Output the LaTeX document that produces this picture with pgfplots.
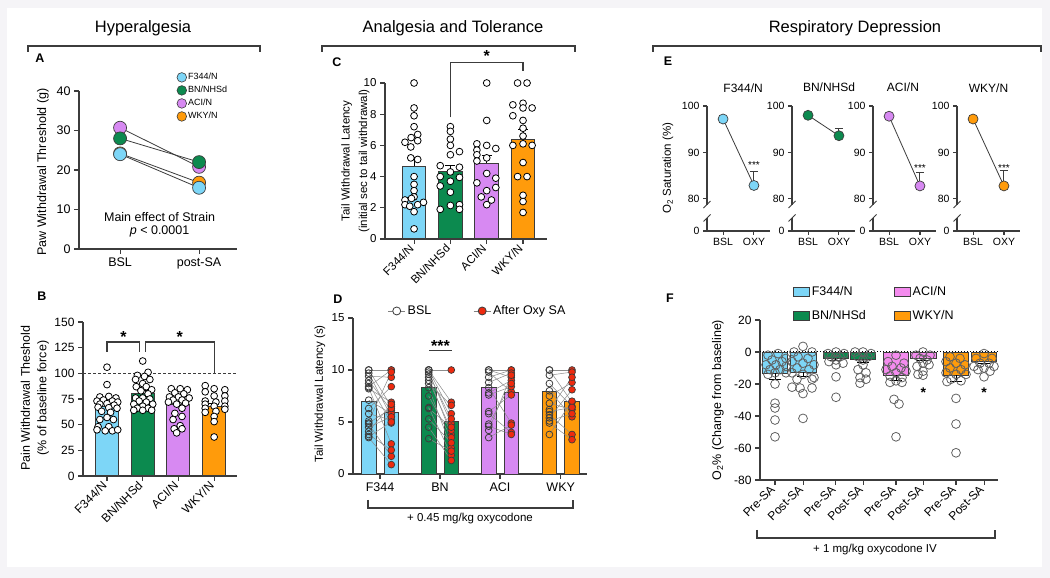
\documentclass[border=0pt]{standalone}
\usepackage{fontspec}
\setmainfont{Liberation Sans}
\usepackage{pgfplots}
\usepackage{pgfplotstable}
\pgfplotsset{compat=1.18}
\definecolor{cF}{HTML}{7DD6F7}
\definecolor{cB}{HTML}{0C8A4F}
\definecolor{cA}{HTML}{D789F2}
\definecolor{cAp}{HTML}{F48BEE}
\definecolor{cW}{HTML}{FF9B0B}
\definecolor{axc}{HTML}{3C3C3C}
\definecolor{cR}{HTML}{EE2A0E}
\definecolor{bgc}{HTML}{F5F4F7}
\pgfplotsset{
  gp/.style={scale only axis, anchor=south west, axis lines=left,
    axis line style={-, line width=1.1pt, draw=axc},
    tick style={line width=1.1pt, draw=axc},
    major tick length=5pt, tick align=outside, clip=false,
    ticklabel style={font=\fontsize{11.5}{13}\selectfont, text=black},
    /pgf/number format/assume math mode=true, enlargelimits=false},
  ebar/.style={error bars/.cd, y dir=plus, y explicit,
    error bar style={draw=black, line width=1pt},
    error mark options={rotate=90, draw=black, mark size=5pt, line width=1pt}},
  pts/.style={only marks, mark=*, mark size=3.4pt, mark options={fill=white, draw=black, line width=0.8pt}},
}
\pgfplotstableread{
b p
10 6.5
10 10
9.7 5.5
9.4 9.3
9.0 6.1
8.7 4.9
8.4 10
8.3 2.9
8.2 6.9
7.1 5.8
6.3 8.4
5.8 5.2
5.1 9.8
4.9 6.3
4.8 1.7
4.5 5.5
4.1 6.7
3.8 2.3
3.6 5.0
3.5 0.9
}\dDF
\pgfplotstableread{
b p
10 10
10 6.9
10 5.8
9.8 4.8
9.6 5.3
9.3 3.8
9.0 4.2
8.7 6.6
8.3 2.5
7.5 3.5
6.4 1.8
6.3 4.5
5.3 3.0
4.5 1.3
3.4 2.2
}\dDB
\pgfplotstableread{
b p
10 10
10 9.3
9.8 7.9
9.3 10
8.8 9.7
8.3 4.9
7.8 9.0
7.6 8.4
6.0 7.6
5.8 4.0
4.8 8.7
4.6 3.8
4.2 9.5
3.5 4.7
}\dDA
\pgfplotstableread{
b p
10 10
10 6.9
9.5 9.8
8.7 6.5
8.0 5.5
7.5 8.8
6.8 6.2
6.2 9.3
5.7 3.8
5.4 8.1
5.1 5.8
4.9 3.3
3.8 7.0
6.0 6.4
}\dDW
\begin{document}
\begin{tikzpicture}[x=1pt,y=1pt]
\path[use as bounding box] (0,0) rectangle (1050,578);
\fill[bgc] (0,0) rectangle (1050,578);
\fill[white] (7,11) rectangle (1042,570);
% section titles and brackets
\node[font=\fontsize{16.5}{18}\selectfont] at (143,550) {Hyperalgesia};
\node[font=\fontsize{16.5}{18}\selectfont] at (453,550) {Analgesia and Tolerance};
\node[font=\fontsize{16.5}{18}\selectfont] at (855,550) {Respiratory Depression};
\draw[axc, line width=1.1pt] (28,526) -- (28,532) -- (260,532) -- (260,526);
\draw[axc, line width=1.1pt] (322,526) -- (322,532) -- (575,532) -- (575,526);
\draw[axc, line width=1.1pt] (653,526) -- (653,532) -- (1041,532) -- (1041,526);
% panel letters
\foreach \l/\px/\py in {A/40/520, B/42/282, C/337/516, D/338/279, E/668/517, F/670/280}
  \node[font=\bfseries\fontsize{12.5}{14}\selectfont] at (\px,\py) {\l};
% y labels
\node[rotate=90, font=\fontsize{12.5}{15}\selectfont] at (43,406) {Paw Withdrawal Threshold (g)};
\node[rotate=90, align=center, font=\fontsize{12.5}{16.5}\selectfont] at (35,180) {Pain Withdrawal Theshold\\(\% of baseline force)};
\node[rotate=90, align=center, font=\fontsize{11.5}{17.5}\selectfont] at (355.5,417) {Tail Withdrawal Latency\\(initial sec to tail withdrawal)};
\node[rotate=90, font=\fontsize{11.5}{14}\selectfont] at (320,184) {Tail Withdrawal Latency (s)};
\node[rotate=90, font=\fontsize{11.5}{14}\selectfont] at (668,410) {O\textsubscript{2} Saturation (\%)};
\node[rotate=90, font=\fontsize{12.5}{15}\selectfont] at (718,178) {O\textsubscript{2}\% (Change from baseline)};
% bottom brackets
\draw[axc, line width=1.1pt] (368,78) -- (368,70) -- (573,70) -- (573,78);
\node[font=\fontsize{11.5}{14}\selectfont] at (470,59) {+ 0.45 mg/kg oxycodone};
\draw[axc, line width=1.1pt] (757,48) -- (757,40) -- (995,40) -- (995,48);
\node[font=\fontsize{11.5}{14}\selectfont] at (875,28) {+ 1 mg/kg oxycodone IV};

% ---------------- Panel A
\begin{axis}[gp, at={(79pt,329pt)}, width=158pt, height=158pt,
  xmin=-0.52, xmax=1.48, ymin=0, ymax=40,
  xtick={0,1}, xticklabels={BSL,post-SA}, ytick={0,10,20,30,40},
  ticklabel style={font=\fontsize{12.5}{15}\selectfont},
  legend style={at={(axis description cs:0.6,1.135)}, anchor=north west, draw=none, fill=none,
    font=\fontsize{9}{10}\selectfont, row sep=2pt, nodes={inner sep=1.5pt}},
  legend cell align=left]
\addlegendimage{only marks, mark=*, mark size=4.8pt, mark options={fill=cF, draw=axc, line width=0.6pt}}
\addlegendentry{F344/N}
\addlegendimage{only marks, mark=*, mark size=4.8pt, mark options={fill=cB, draw=axc, line width=0.6pt}}
\addlegendentry{BN/NHSd}
\addlegendimage{only marks, mark=*, mark size=4.8pt, mark options={fill=cA, draw=axc, line width=0.6pt}}
\addlegendentry{ACI/N}
\addlegendimage{only marks, mark=*, mark size=4.8pt, mark options={fill=cW, draw=axc, line width=0.6pt}}
\addlegendentry{WKY/N}
\addplot[forget plot, color=axc, line width=0.8pt, mark=*, mark size=6.5pt, mark options={fill=cW, draw=axc, line width=0.7pt}] coordinates {(0,24.2) (1,16.8)};
\addplot[forget plot, color=axc, line width=0.8pt, mark=*, mark size=6.5pt, mark options={fill=cA, draw=axc, line width=0.7pt}] coordinates {(0,30.7) (1,20.8)};
\addplot[forget plot, color=axc, line width=0.8pt, mark=*, mark size=6.5pt, mark options={fill=cB, draw=axc, line width=0.7pt}] coordinates {(0,28) (1,22)};
\addplot[forget plot, color=axc, line width=0.8pt, mark=*, mark size=6.5pt, mark options={fill=cF, draw=axc, line width=0.7pt}] coordinates {(0,24) (1,15.5)};
\node[font=\fontsize{12.5}{15}\selectfont] at (axis cs:0.5,8) {Main effect of Strain};
\node[font=\fontsize{12.5}{15}\selectfont] at (axis cs:0.5,4.4) {\textit{p} < 0.0001};
\end{axis}

% ---------------- Panel B
\begin{axis}[gp, at={(83pt,102pt)}, width=154pt, height=154pt,
  xmin=-0.672, xmax=3.64, ymin=0, ymax=150, ytick={0,25,50,75,100,125,150},
  ticklabel style={font=\fontsize{12}{14}\selectfont},
  xtick={0,1,2,3}, xticklabels={F344/N,BN/NHSd,ACI/N,WKY/N},
  xticklabel style={rotate=45, anchor=east, font=\fontsize{12}{14}\selectfont}]
\addplot[ybar, bar width=23pt, bar shift=0pt, fill=cF, draw=axc, line width=1pt, ebar] coordinates {(0,67.3) +- (0,3.3)};
\addplot[ybar, bar width=23pt, bar shift=0pt, fill=cB, draw=axc, line width=1pt, ebar] coordinates {(1,80.5) +- (0,2.7)};
\addplot[ybar, bar width=23pt, bar shift=0pt, fill=cA, draw=axc, line width=1pt, ebar] coordinates {(2,69.3) +- (0,2.8)};
\addplot[ybar, bar width=23pt, bar shift=0pt, fill=cW, draw=axc, line width=1pt, ebar] coordinates {(3,67.8) +- (0,3.2)};
\addplot[dashed, dash pattern=on 3pt off 2pt, draw=axc, line width=1pt] coordinates {(-0.672,100) (3.64,100)};
\addplot[pts] coordinates {(0,106) (0,89) (-0.2,77) (0.05,77.5) (0.25,76) (-0.28,73) (-0.1,74) (0.15,73) (0.3,72) (-0.2,70) (0,70.5) (0.2,69) (-0.25,67) (0.05,66.5) (0.28,66) (-0.15,63) (0.1,62) (0,57) (-0.2,55) (0.18,55) (-0.25,48) (0.05,48) (-0.28,45) (-0.05,44) (0.15,44) (0.3,45)};
\addplot[pts] coordinates {(1,112) (1.15,101) (0.85,98) (1.05,97) (0.8,94) (1.2,94) (1,90) (0.82,87) (1.1,87) (1.25,84) (0.95,83) (1.15,80) (0.8,76) (1,76) (1.2,75) (0.9,73) (1.1,72) (0.75,70) (1.28,70) (1,68) (0.85,66) (1.15,66) (0.75,64) (1,64) (1.25,64)};
\addplot[pts] coordinates {(1.8,85) (2.05,85) (2.25,84) (1.9,81) (2.15,80) (1.75,77) (2,77) (2.3,76) (1.85,74) (2.1,74) (1.72,72) (2.2,71) (1.95,70) (2.1,66) (1.9,61) (2.1,58) (1.85,55) (2.05,49) (1.88,46) (2.1,46) (1.95,42)};
\addplot[pts] coordinates {(2.75,88) (2.75,82) (3,85) (3.3,84) (3.3,78) (3,78) (2.75,73) (3.3,73) (3.05,72) (2.75,70) (3.3,68) (3,68) (2.75,66) (3.3,65) (3.05,63) (2.75,62) (3,58) (3,53) (3,38)};
\draw[axc, line width=1.1pt] (axis cs:0,121) -- (axis cs:0,130.5) -- (axis cs:0.92,130.5) -- (axis cs:0.92,121);
\draw[axc, line width=1.1pt] (axis cs:1.08,121) -- (axis cs:1.08,130.5) -- (axis cs:3,130.5) -- (axis cs:3,100.5);
\node[anchor=base, yshift=-9pt, font=\bfseries\fontsize{16}{18}\selectfont] at (axis cs:0.46,139) {*};
\node[anchor=base, yshift=-9pt, font=\bfseries\fontsize{16}{18}\selectfont] at (axis cs:2.04,139) {*};
\end{axis}

% ---------------- Panel C
\begin{axis}[gp, at={(385pt,339pt)}, width=162pt, height=156pt,
  xmin=-0.8, xmax=3.66, ymin=0, ymax=10, ytick={0,2,4,6,8,10},
  ticklabel style={font=\fontsize{11.5}{13}\selectfont},
  xtick={0,1,2,3}, xticklabels={F344/N,BN/NHSd,ACI/N,WKY/N},
  xticklabel style={rotate=45, anchor=east, font=\fontsize{11.5}{13}\selectfont}]
\addplot[ybar, bar width=23.5pt, bar shift=0pt, fill=cF, draw=axc, line width=1pt, ebar] coordinates {(0,4.65) +- (0,0.55)};
\addplot[ybar, bar width=23.5pt, bar shift=0pt, fill=cB, draw=axc, line width=1pt, ebar] coordinates {(1,4.3) +- (0,0.4)};
\addplot[ybar, bar width=23.5pt, bar shift=0pt, fill=cA, draw=axc, line width=1pt, ebar] coordinates {(2,4.85) +- (0,0.5)};
\addplot[ybar, bar width=23.5pt, bar shift=0pt, fill=cW, draw=axc, line width=1pt, ebar] coordinates {(3,6.4) +- (0,0.6)};
\addplot[pts] coordinates {(0,10) (0,8.4) (0,7.9) (0,7.2) (0.1,6.7) (-0.08,6.5) (-0.25,6.2) (0.1,6.3) (-0.09,5.9) (-0.09,5.2) (0.1,5.1) (0,4.0) (0,3.5) (0,3.1) (0,2.7) (-0.25,2.5) (-0.07,2.6) (-0.25,2.2) (-0.12,2.1) (0.1,2.2) (0.26,2.35) (0,1.75) (0,0.65)};
\addplot[pts] coordinates {(1,7.2) (1,6.9) (1,6.4) (1,6.0) (1.25,5.6) (1,5.4) (0.72,4.7) (1.25,4.6) (1,4.3) (0.72,4.0) (1.25,3.95) (0.72,3.4) (1,3.7) (1,3.0) (1.25,2.2) (1,2.15) (0.72,1.9) (1.25,1.9)};
\addplot[pts] coordinates {(2,10) (2,7.6) (1.73,6.1) (2,6.0) (2.25,5.8) (1.73,5.7) (1.73,5.4) (2,5.2) (1.73,5.0) (1.73,3.6) (2,4.2) (2.25,3.9) (2.25,3.3) (2,3.1) (1.85,2.7) (2.13,2.5) (2,2.2)};
\addplot[pts] coordinates {(2.85,10) (3.11,10) (2.72,8.6) (3,8.7) (3.25,8.4) (3,8.4) (2.72,7.9) (3,7.6) (3,7.1) (3,6.6) (2.72,6.0) (3,6.1) (3.25,6.0) (3,4.9) (2.85,4.0) (3.11,4.0) (3,2.8) (3,2.4) (3,1.7)};
\draw[axc, line width=1.1pt] (axis cs:1,7.8) -- (axis cs:1,11.3) -- (axis cs:3,11.3) -- (axis cs:3,10.8);
\node[anchor=base, yshift=-9pt, font=\bfseries\fontsize{16}{18}\selectfont] at (axis cs:2,11.95) {*};
\end{axis}

% ---------------- Panel D
\begin{axis}[gp, at={(353pt,104pt)}, width=234pt, height=156pt,
  xmin=353, xmax=587, ymin=0, ymax=15, ytick={0,5,10,15},
  ticklabel style={font=\fontsize{11.5}{13}\selectfont},
  xtick={380,440,500,560.7}, xticklabels={F344,BN,ACI,WKY},
  xticklabel style={font=\fontsize{12.5}{15}\selectfont},
  legend style={at={(axis description cs:0.135,1.045)}, anchor=west, draw=none, fill=none,
    font=\fontsize{12.5}{14}\selectfont, legend columns=2,
    /tikz/every even column/.append style={column sep=40pt}},
  legend cell align=left]
\addlegendimage{color=gray, line width=0.8pt, mark=*, mark size=4pt, mark options={fill=white, draw=axc, line width=0.8pt}}
\addlegendentry{BSL}
\addlegendimage{color=gray, line width=0.8pt, mark=*, mark size=4pt, mark options={fill=cR, draw=axc, line width=0.8pt}}
\addlegendentry{After Oxy SA}
\addplot[forget plot, ybar, bar width=14.5pt, bar shift=0pt, fill=cF, draw=axc, line width=0.9pt] coordinates {(368.7,7.0)};
\addplot[forget plot, ybar, bar width=14.5pt, bar shift=0pt, fill=cF, draw=axc, line width=0.9pt] coordinates {(391.3,5.93)};
\addplot[forget plot, ybar, bar width=14.5pt, bar shift=0pt, fill=cB, draw=axc, line width=0.9pt] coordinates {(428.7,8.3)};
\addplot[forget plot, ybar, bar width=14.5pt, bar shift=0pt, fill=cB, draw=axc, line width=0.9pt] coordinates {(451.3,5.03)};
\addplot[forget plot, ybar, bar width=14.5pt, bar shift=0pt, fill=cA, draw=axc, line width=0.9pt] coordinates {(488.7,8.3)};
\addplot[forget plot, ybar, bar width=14.5pt, bar shift=0pt, fill=cA, draw=axc, line width=0.9pt] coordinates {(511.3,7.82)};
\addplot[forget plot, ybar, bar width=14.5pt, bar shift=0pt, fill=cW, draw=axc, line width=0.9pt] coordinates {(549.4,7.9)};
\addplot[forget plot, ybar, bar width=14.5pt, bar shift=0pt, fill=cW, draw=axc, line width=0.9pt] coordinates {(572,6.99)};
\addplot[forget plot, draw=black!45, line width=0.5pt, quiver={u=22.6, v=\thisrow{p}-\thisrow{b}}] table[x expr=368.7, y=b] {\dDF};
\addplot[forget plot, draw=black!45, line width=0.5pt, quiver={u=22.6, v=\thisrow{p}-\thisrow{b}}] table[x expr=428.7, y=b] {\dDB};
\addplot[forget plot, draw=black!45, line width=0.5pt, quiver={u=22.6, v=\thisrow{p}-\thisrow{b}}] table[x expr=488.7, y=b] {\dDA};
\addplot[forget plot, draw=black!45, line width=0.5pt, quiver={u=22.6, v=\thisrow{p}-\thisrow{b}}] table[x expr=549.4, y=b] {\dDW};
\addplot[forget plot, only marks, mark=o, mark size=3.4pt, mark options={draw=axc, line width=0.8pt}] table[x expr=368.7, y=b] {\dDF};
\addplot[forget plot, only marks, mark=o, mark size=3.4pt, mark options={draw=axc, line width=0.8pt}] table[x expr=428.7, y=b] {\dDB};
\addplot[forget plot, only marks, mark=o, mark size=3.4pt, mark options={draw=axc, line width=0.8pt}] table[x expr=488.7, y=b] {\dDA};
\addplot[forget plot, only marks, mark=o, mark size=3.4pt, mark options={draw=axc, line width=0.8pt}] table[x expr=549.4, y=b] {\dDW};
\addplot[forget plot, only marks, mark=*, mark size=3.4pt, mark options={fill=cR, draw=axc, line width=0.7pt}] table[x expr=391.3, y=p] {\dDF};
\addplot[forget plot, only marks, mark=*, mark size=3.4pt, mark options={fill=cR, draw=axc, line width=0.7pt}] table[x expr=451.3, y=p] {\dDB};
\addplot[forget plot, only marks, mark=*, mark size=3.4pt, mark options={fill=cR, draw=axc, line width=0.7pt}] table[x expr=511.3, y=p] {\dDA};
\addplot[forget plot, only marks, mark=*, mark size=3.4pt, mark options={fill=cR, draw=axc, line width=0.7pt}] table[x expr=572, y=p] {\dDW};
\draw[axc, line width=1.1pt] (axis cs:429,11.85) -- (axis cs:452,11.85);
\node[anchor=base, yshift=-9pt, font=\bfseries\fontsize{16}{18}\selectfont] at (axis cs:440.5,12.6) {***};
\end{axis}

% ---------------- Panel E (four small axes)
\pgfplotsset{eax/.style={gp, width=63pt, height=125pt, xmin=-0.52, xmax=1.52, ymin=73.1, ymax=100,
  ytick={73.1,80,90,100}, yticklabels={0,80,90,100}, xtick={0,1}, xticklabels={BSL,OXY},
  y axis line style={draw=none}, major tick length=4pt,
  ticklabel style={font=\fontsize{10.5}{12}\selectfont}}}
\newcommand{\ebreak}{%
  \draw[axc, line width=1.1pt] (axis cs:-0.52,100) -- (axis cs:-0.52,78.8);
  \draw[axc, line width=1.1pt] (axis cs:-0.52,75.9) -- (axis cs:-0.52,73.1);
  \draw[axc, line width=0.9pt] ([xshift=-3.5pt,yshift=-3.5pt]axis cs:-0.52,78.8) -- ([xshift=3.5pt,yshift=3.5pt]axis cs:-0.52,78.8);
  \draw[axc, line width=0.9pt] ([xshift=-3.5pt,yshift=-3.5pt]axis cs:-0.52,75.9) -- ([xshift=3.5pt,yshift=3.5pt]axis cs:-0.52,75.9);}
\begin{axis}[eax, at={(707pt,347pt)}]
\ebreak
\addplot[draw=none, mark=none, error bars/.cd, y dir=plus, y explicit, error bar style={draw=axc, line width=1pt}, error mark options={rotate=90, draw=axc, mark size=4pt, line width=1pt}] coordinates {(1,82.9) +- (0,3.0)};
\addplot[color=axc, line width=0.8pt, mark=*, mark size=5pt, mark options={fill=cF, draw=axc, line width=0.7pt}] coordinates {(0,97.2) (1,82.9)};
\node[anchor=base, yshift=-5.5pt, font=\fontsize{10}{12}\selectfont] at (axis cs:1,87.7) {***};
\node[font=\fontsize{12}{14}\selectfont] at (axis cs:0.65,103.8) {F344/N};
\end{axis}
\begin{axis}[eax, at={(792pt,347pt)}]
\ebreak
\addplot[draw=none, mark=none, error bars/.cd, y dir=plus, y explicit, error bar style={draw=axc, line width=1pt}, error mark options={rotate=90, draw=axc, mark size=4pt, line width=1pt}] coordinates {(1,93.6) +- (0,1.5)};
\addplot[color=axc, line width=0.8pt, mark=*, mark size=5pt, mark options={fill=cB, draw=axc, line width=0.7pt}] coordinates {(0,98.0) (1,93.6)};
\node[font=\fontsize{12}{14}\selectfont] at (axis cs:0.68,104.0) {BN/NHSd};
\end{axis}
\begin{axis}[eax, at={(873pt,347pt)}]
\ebreak
\addplot[draw=none, mark=none, error bars/.cd, y dir=plus, y explicit, error bar style={draw=axc, line width=1pt}, error mark options={rotate=90, draw=axc, mark size=4pt, line width=1pt}] coordinates {(1,82.8) +- (0,2.9)};
\addplot[color=axc, line width=0.8pt, mark=*, mark size=5pt, mark options={fill=cA, draw=axc, line width=0.7pt}] coordinates {(0,97.8) (1,82.8)};
\node[anchor=base, yshift=-5.5pt, font=\fontsize{10}{12}\selectfont] at (axis cs:1,87.0) {***};
\node[font=\fontsize{12}{14}\selectfont] at (axis cs:0.45,104.0) {ACI/N};
\end{axis}
\begin{axis}[eax, at={(957pt,347pt)}]
\ebreak
\addplot[draw=none, mark=none, error bars/.cd, y dir=plus, y explicit, error bar style={draw=axc, line width=1pt}, error mark options={rotate=90, draw=axc, mark size=4pt, line width=1pt}] coordinates {(1,82.8) +- (0,3.3)};
\addplot[color=axc, line width=0.8pt, mark=*, mark size=5pt, mark options={fill=cW, draw=axc, line width=0.7pt}] coordinates {(0,97.2) (1,82.8)};
\node[anchor=base, yshift=-5.5pt, font=\fontsize{10}{12}\selectfont] at (axis cs:1,87.1) {***};
\node[font=\fontsize{12}{14}\selectfont] at (axis cs:0.5,103.8) {WKY/N};
\end{axis}

% ---------------- Panel F
\begin{axis}[gp, at={(760pt,98pt)}, width=238pt, height=160pt,
  xmin=760, xmax=998, ymin=-80, ymax=20,
  ytick={-80,-60,-40,-20,0,20}, yticklabels={-80,-60,-40,-20,0,20},
  ticklabel style={font=\fontsize{12}{14}\selectfont},
  xtick={775,803.3,835.8,863.2,896,923.3,956,984.2},
  xticklabels={Pre-SA,Post-SA,Pre-SA,Post-SA,Pre-SA,Post-SA,Pre-SA,Post-SA},
  xticklabel style={rotate=45, anchor=east, font=\fontsize{12}{14}\selectfont},
  legend style={at={(axis description cs:0.125,1.235)}, anchor=north west, draw=none, fill=none,
    font=\fontsize{12.5}{14}\selectfont, legend columns=2, row sep=9pt,
    /tikz/every even column/.append style={column sep=26pt}},
  legend cell align=left,
  legend image code/.code={\draw[#1, draw=axc, line width=0.8pt] (0pt,-4.5pt) rectangle (16pt,4.5pt);}]
\addlegendimage{fill=cF}\addlegendentry{F344/N}
\addlegendimage{fill=cAp}\addlegendentry{ACI/N}
\addlegendimage{fill=cB}\addlegendentry{BN/NHSd}
\addlegendimage{fill=cW}\addlegendentry{WKY/N}
\pgfplotsset{febar/.style={error bars/.cd, y dir=minus, y explicit,
    error bar style={draw=black, line width=1pt},
    error mark options={rotate=90, draw=black, mark size=6pt, line width=1pt}}}
\addplot[forget plot, ybar, bar width=25.3pt, bar shift=0pt, fill=cF, draw=axc, line width=0.9pt, febar] coordinates {(775,-13.3) +- (0,3.7)};
\addplot[forget plot, ybar, bar width=25.3pt, bar shift=0pt, fill=cF, draw=axc, line width=0.9pt, febar] coordinates {(803.3,-12.7) +- (0,2.5)};
\addplot[forget plot, ybar, bar width=25.3pt, bar shift=0pt, fill=cB, draw=axc, line width=0.9pt, febar] coordinates {(835.8,-4.0) +- (0,1.6)};
\addplot[forget plot, ybar, bar width=25.3pt, bar shift=0pt, fill=cB, draw=axc, line width=0.9pt, febar] coordinates {(863.2,-4.8) +- (0,1.5)};
\addplot[forget plot, ybar, bar width=25.3pt, bar shift=0pt, fill=cAp, draw=axc, line width=0.9pt, febar] coordinates {(896,-14.4) +- (0,3.3)};
\addplot[forget plot, ybar, bar width=25.3pt, bar shift=0pt, fill=cAp, draw=axc, line width=0.9pt, febar] coordinates {(923.3,-4.1) +- (0,1.1)};
\addplot[forget plot, ybar, bar width=25.3pt, bar shift=0pt, fill=cW, draw=axc, line width=0.9pt, febar] coordinates {(956,-14.4) +- (0,3.9)};
\addplot[forget plot, ybar, bar width=25.3pt, bar shift=0pt, fill=cW, draw=axc, line width=0.9pt, febar] coordinates {(984.2,-6.0) +- (0,1.5)};
\addplot[forget plot, dotted, draw=black, line width=1pt] coordinates {(760,0) (998,0)};
\pgfplotsset{fpts/.style={forget plot, only marks, mark=o, mark size=4.4pt, mark options={draw=black!62, line width=0.8pt}}}
\addplot[fpts] coordinates {(768,-2) (778,-1) (786,-4) (772,-5) (782,-6) (766,-8) (776,-8) (786,-9) (770,-11) (780,-11) (775,-13) (786,-13) (768,-14) (775,-20) (775,-32) (775,-35) (775,-42.5) (775,-53)};
\addplot[fpts] coordinates {(803,3.5) (794,0) (812,0) (798,-3) (808,-4) (792,-6) (803,-7) (814,-8) (797,-10) (809,-11) (792,-13) (803,-14) (814,-16) (797,-17) (812,-17) (792,-22) (800,-22.5) (812,-22.5) (803,-26) (803,-41.5)};
\addplot[fpts] coordinates {(828,-1) (836,0) (844,-1) (831,-3) (840,-3) (836,-5) (829,-6) (843,-7) (836,-8) (836,-15.5) (836,-28.3)};
\addplot[fpts] coordinates {(855,0) (863,0) (871,-1) (858,-3) (868,-3) (863,-5) (863,-8) (858,-11) (866,-13) (860,-16) (866,-17) (860,-19.5)};
\addplot[fpts] coordinates {(896,-2) (888,-6) (904,-7) (892,-9) (901,-10) (886,-11) (906,-12) (896,-13) (890,-15) (902,-16) (896,-18) (890,-19) (902,-19) (894,-29.6) (899,-32.5) (896,-53)};
\addplot[fpts] coordinates {(923,0) (916,-2) (930,-2) (920,-4) (927,-5) (923,-7) (917,-9) (929,-8) (923,-12) (918,-14) (923,-14.5)};
\addplot[fpts] coordinates {(950,-3) (960,-4) (946,-6) (956,-7) (965,-8) (950,-10) (961,-11) (946,-13) (956,-14) (966,-14) (951,-17) (961,-18) (947,-18.5) (956,-29) (956,-45) (956,-63)};
\addplot[fpts] coordinates {(984,-1) (976,-4) (992,-4) (980,-7) (989,-7) (974,-9) (984,-10) (994,-9) (978,-11) (990,-12) (984,-15.5)};
\node[anchor=base, yshift=-8pt, font=\bfseries\fontsize{14}{16}\selectfont] at (axis cs:923.3,-23.75) {*};
\node[anchor=base, yshift=-8pt, font=\bfseries\fontsize{14}{16}\selectfont] at (axis cs:984.2,-23.75) {*};
\end{axis}
\end{tikzpicture}
\end{document}
